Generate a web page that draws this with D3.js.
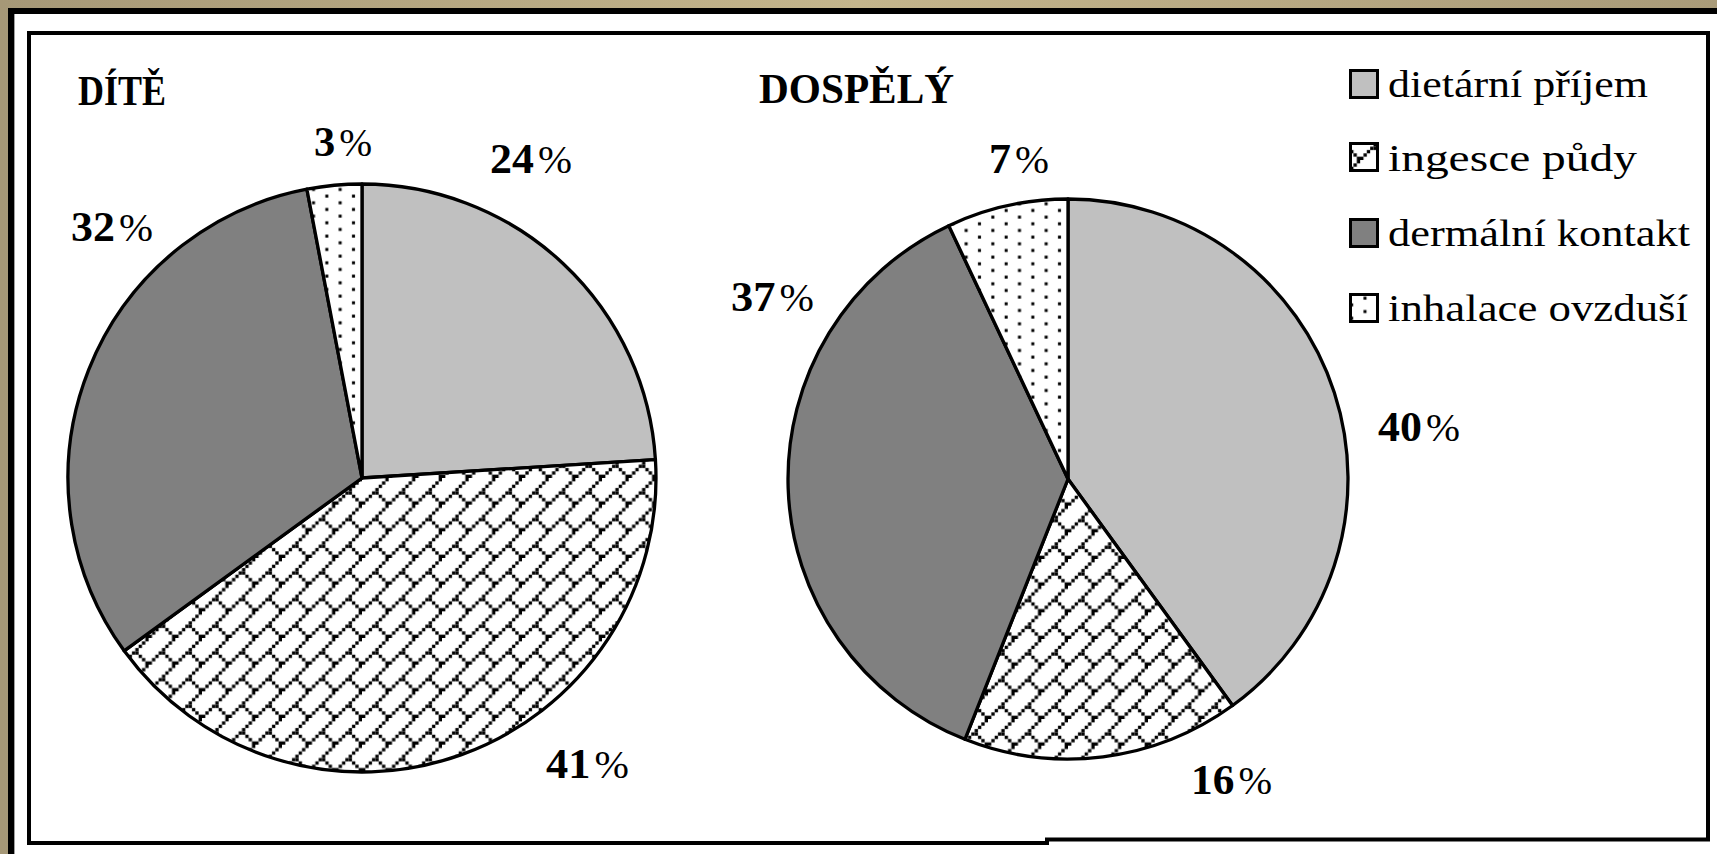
<!DOCTYPE html>
<html>
<head>
<meta charset="utf-8">
<script src="https://cdn.jsdelivr.net/npm/d3@7"></script>
<style>
  html, body { margin: 0; padding: 0; background: #fff; }
  svg { display: block; }
</style>
</head>
<body>
<svg id="chart" width="1717" height="854"></svg>
<script>
// ---------------- data ----------------
const pieTitles = ["DÍTĚ", "DOSPĚLÝ"];
const categories = ["dietární příjem", "ingesce půdy", "dermální kontakt", "inhalace ovzduší"];
const childValues = [24, 41, 32, 3];
const adultValues = [40, 16, 37, 7];

// ---------------- layout / style ----------------
const W = 1717, H = 854;
const fills = ["#c0c0c0", "url(#hatch)", "#808080", "url(#dots)"];
const pieLayout = [
  { values: childValues, cx: 362, cy: 478, r: 294,
    title: { x: 78, y: 105, w: 88 },
    labels: [[490, 173, 82], [546, 778, 83], [71, 241, 82], [314, 156, 58]] },
  { values: adultValues, cx: 1068, cy: 479, r: 280,
    title: { x: 759, y: 103, w: 195 },
    labels: [[1378, 441, 82], [1191, 794, 81], [731, 311, 83], [989, 173, 60]] }
];
const legendLayout = { x: 1349, tops: [69, 142, 218, 293], size: 30, textX: 1388,
  baselines: [97, 171, 246, 321], ends: [1648, 1637, 1690, 1688] };
const serif = "'Liberation Serif', 'DejaVu Serif', serif";

const svg = d3.select("#chart");
const defs = svg.append("defs");

// background gradient (window chrome)
const grad = defs.append("linearGradient").attr("id", "chrome").attr("x1", 0).attr("x2", 1).attr("y1", 0).attr("y2", 0);
grad.append("stop").attr("offset", "0%").attr("stop-color", "#a69877");
grad.append("stop").attr("offset", "50%").attr("stop-color", "#c4b58c");
grad.append("stop").attr("offset", "100%").attr("stop-color", "#a99b79");

// diagonal brick pattern (8x8 pixel bitmap)
const px = 26.67 / 8;
const brickBits = [
  "00000001",
  "00000010",
  "00000100",
  "00001000",
  "00011000",
  "00100100",
  "01000010",
  "10000001"
];
const hatch = defs.append("pattern").attr("id", "hatch").attr("patternUnits", "userSpaceOnUse")
  .attr("width", 8 * px).attr("height", 8 * px);
hatch.append("rect").attr("width", 8 * px).attr("height", 8 * px).attr("fill", "#fff");
brickBits.forEach((row, ry) => {
  row.split("").forEach((b, rx) => {
    if (b === "1") hatch.append("rect").attr("x", rx * px).attr("y", ry * px)
      .attr("width", px).attr("height", px).attr("fill", "#000");
  });
});

// dotted pattern
const dots = defs.append("pattern").attr("id", "dots").attr("patternUnits", "userSpaceOnUse")
  .attr("width", 8 * px).attr("height", 4 * px);
dots.append("rect").attr("width", 8 * px).attr("height", 4 * px).attr("fill", "#fff");
[[1, 1], [5, 3]].forEach(([x, y]) => dots.append("rect").attr("x", x * px).attr("y", y * px)
  .attr("width", px * 0.9).attr("height", px * 0.9).attr("fill", "#000"));

// ---------------- frame ----------------
svg.append("rect").attr("width", W).attr("height", H).attr("fill", "url(#chrome)");
svg.append("rect").attr("x", 8).attr("y", 8).attr("width", W - 8).attr("height", H - 8).attr("fill", "#000");
svg.append("rect").attr("x", 14).attr("y", 14).attr("width", W - 14).attr("height", H - 14).attr("fill", "#a0a0a0");
svg.append("rect").attr("x", 15).attr("y", 14).attr("width", W - 15).attr("height", H - 14).attr("fill", "#fff");
svg.append("path")
  .attr("d", "M29,33 H1708 V839.5 H1047 V843 H29 Z")
  .attr("fill", "#fff").attr("stroke", "#000").attr("stroke-width", 4);

// ---------------- pies ----------------
const pie = d3.pie().sort(null).startAngle(0).endAngle(2 * Math.PI);

pieLayout.forEach((P, pi) => {
  const arc = d3.arc().innerRadius(0).outerRadius(P.r);
  const g = svg.append("g").attr("transform", `translate(${P.cx},${P.cy})`);
  g.selectAll("path").data(pie(P.values)).join("path")
    .attr("d", arc)
    .attr("fill", (d, i) => fills[i])
    .attr("stroke", "#000")
    .attr("stroke-width", 3.3)
    .attr("stroke-linejoin", "round");

  svg.append("text")
    .attr("x", P.title.x).attr("y", P.title.y)
    .attr("font-family", serif).attr("font-weight", "bold").attr("font-size", 43)
    .attr("textLength", P.title.w).attr("lengthAdjust", "spacingAndGlyphs")
    .text(pieTitles[pi]);

  P.values.forEach((v, i) => {
    const [lx, ly, lw] = P.labels[i];
    const t = svg.append("text")
      .attr("x", lx).attr("y", ly)
      .attr("font-family", serif).attr("font-size", 43)
      .attr("textLength", lw).attr("lengthAdjust", "spacingAndGlyphs");
    t.append("tspan").attr("font-weight", "bold").text(String(v));
    t.append("tspan").attr("font-weight", "normal").attr("font-size", 40).attr("dx", 4).text("%");
  });
});

// ---------------- legend ----------------
categories.forEach((c, i) => {
  const L = legendLayout;
  svg.append("rect")
    .attr("x", L.x + 1.5).attr("y", L.tops[i] + 1.5)
    .attr("width", L.size - 3).attr("height", L.size - 3)
    .attr("fill", fills[i]).attr("stroke", "#000").attr("stroke-width", 3);
  svg.append("text")
    .attr("x", L.textX).attr("y", L.baselines[i])
    .attr("font-family", serif).attr("font-size", 38)
    .attr("textLength", L.ends[i] - L.textX).attr("lengthAdjust", "spacingAndGlyphs")
    .text(c);
});
</script>
</body>
</html>
